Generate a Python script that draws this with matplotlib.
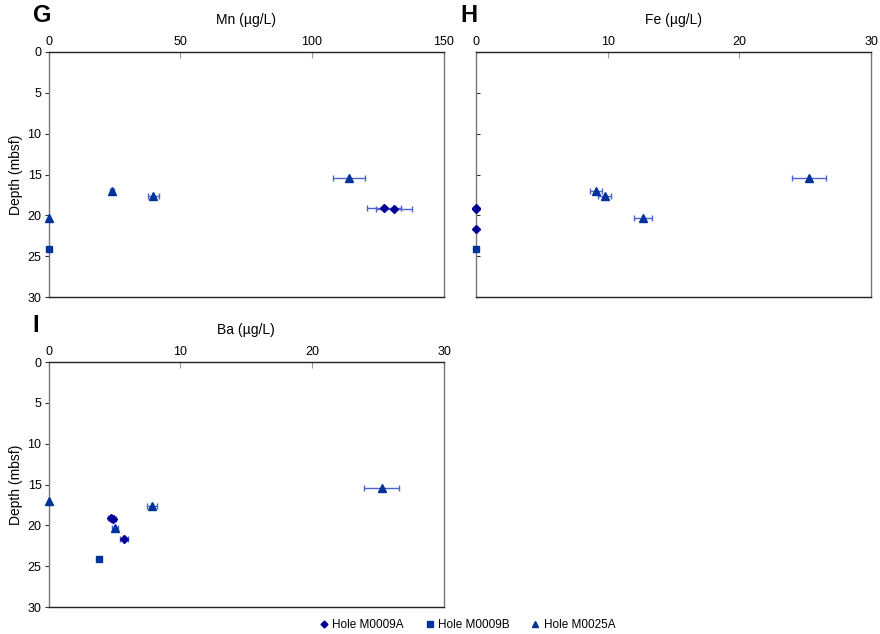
import numpy as np
import matplotlib
matplotlib.use("Agg")
import matplotlib.pyplot as plt
from matplotlib.lines import Line2D

plt.rcParams['font.family'] = ['Liberation Sans', 'DejaVu Sans']

# ---- data ----
depth_A = [19.15, 19.2, 21.65]        # Hole M0009A
depth_B = [24.15]                     # Hole M0009B
depth_C = [15.45, 17.0, 17.65, 20.3]  # Hole M0025A

mn_A = [127.5, 131.2, np.nan]; mn_A_err = [6.5, 6.7, 0]
mn_B = [0.0];                  mn_B_err = [0]
mn_C = [114.0, 24.0, 39.8, 0.0]; mn_C_err = [6.0, 0.8, 2.1, 0]

fe_A = [0.0, 0.0, 0.0];        fe_A_err = [0, 0, 0]
fe_B = [0.0];                  fe_B_err = [0]
fe_C = [25.3, 9.14, 9.77, 12.67]; fe_C_err = [1.3, 0.46, 0.5, 0.66]

ba_A = [4.74, 4.91, 5.75];     ba_A_err = [0.2, 0.2, 0.3]
ba_B = [3.83];                 ba_B_err = [0]
ba_C = [25.26, 0.0, 7.85, 5.04]; ba_C_err = [1.3, 0, 0.4, 0.2]

panels = [
    ("G", "Mn (µg/L)", [0, 50, 100, 150], (mn_A, mn_A_err), (mn_B, mn_B_err), (mn_C, mn_C_err), True),
    ("H", "Fe (µg/L)", [0, 10, 20, 30], (fe_A, fe_A_err), (fe_B, fe_B_err), (fe_C, fe_C_err), False),
    ("I", "Ba (µg/L)", [0, 10, 20, 30], (ba_A, ba_A_err), (ba_B, ba_B_err), (ba_C, ba_C_err), True),
]
depth_ticks = [0, 5, 10, 15, 20, 25, 30]
legend_labels = ["Hole M0009A", "Hole M0009B", "Hole M0025A"]

W, H = 880, 634
fig = plt.figure(figsize=(W/100, H/100), dpi=100)
rects = [
    (48.5, 52, 395, 245),
    (476, 52, 395, 245),
    (48.5, 362, 395.5, 245),
]

col_A = '#000099'
col_B = '#003399'
col_C = '#003399'
ecol = '#4a64cc'

for (lab, title, xt, A, B, C, showy), (x0, y0, w, h) in zip(panels, rects):
    ax = fig.add_axes([x0/W, 1 - (y0 + h)/H, w/W, h/H])
    for (vals, errs), d, m, c, ms in [(C, depth_C, '^', col_C, 5.5),
                                     (B, depth_B, 's', col_B, 4.5),
                                     (A, depth_A, 'D', col_A, 4.5)]:
        ax.errorbar(vals, d, xerr=errs, fmt=m, color=c, ms=ms, mec=c,
                    ecolor=ecol, elinewidth=1.0, capsize=2.5, capthick=1.0,
                    clip_on=False, zorder=3)
    ax.set_xlim(xt[0], xt[-1])
    ax.set_ylim(30, 0)
    ax.set_xticks(xt)
    ax.set_yticks(depth_ticks)
    ax.xaxis.tick_top()
    ax.tick_params(axis='x', direction='in', length=4, color='#999999',
                   labelsize=9, pad=3)
    ax.tick_params(axis='y', direction='out' if showy else 'in', length=3,
                   color='#333333', labelsize=9, pad=2)
    if not showy:
        ax.set_yticklabels([])
    else:
        ax.set_ylabel("Depth (mbsf)", fontsize=10, labelpad=3)
    for s in ['top', 'bottom']:
        ax.spines[s].set_color('#222222')
    for s in ['left', 'right']:
        ax.spines[s].set_color('#777777')
    for s in ax.spines.values():
        s.set_linewidth(1.0)
    ax.set_title(title, fontsize=10, pad=20)
    fig.text((x0 - 16)/W, 1 - (y0 - 36)/H, lab, fontsize=17, fontweight='bold',
             ha='left', va='center')

handles = [Line2D([], [], marker='D', color=col_A, ls='none', ms=3.5),
           Line2D([], [], marker='s', color=col_B, ls='none', ms=3.8),
           Line2D([], [], marker='^', color=col_C, ls='none', ms=4.5)]
fig.legend(handles, legend_labels, loc='center', bbox_to_anchor=(466/W, 1 - 625/H),
           ncol=3, frameon=False, fontsize=8.5, handletextpad=0.1,
           columnspacing=1.6, handlelength=1.2)

fig.savefig("out.png", dpi=100)
